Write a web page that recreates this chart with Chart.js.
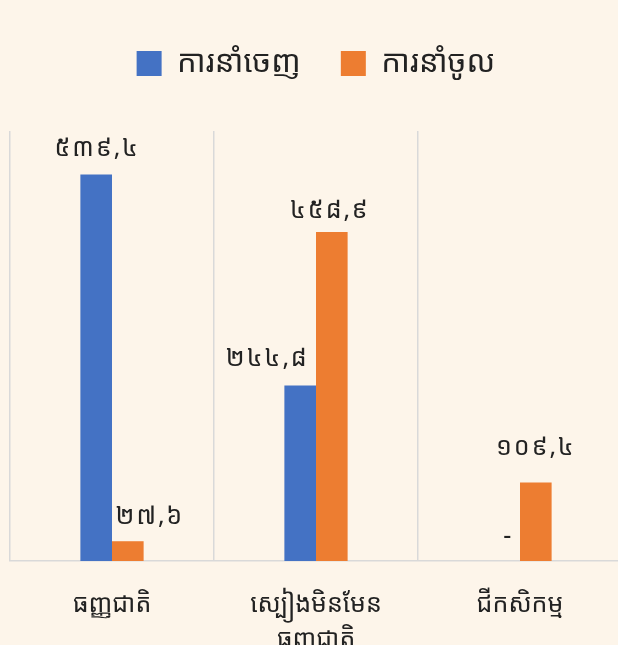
<!DOCTYPE html>
<html>
<head>
<meta charset="utf-8">
<script src="https://cdn.jsdelivr.net/npm/chart.js@4"></script>
<style>
  html, body { margin: 0; padding: 0; background: #fdf5ea; overflow: hidden; }
  #wrap { width: 630px; height: 645px; }
</style>
</head>
<body>
<div id="wrap"><canvas id="chart"></canvas></div>
<script>
// data
var categories = ['ធញ្ញជាតិ', ['ស្បៀងមិនមែន', 'ធញ្ញជាតិ'], 'ជីកសិកម្ម'];
var exportValues = [539.4, 244.8, 0];
var importValues = [27.6, 458.9, 109.4];
var seriesNames = ['ការនាំចេញ', 'ការនាំចូល'];

var KH_FONT = "'Noto Sans Khmer', 'Khmer OS System', 'Khmer OS', 'Noto Serif Khmer', sans-serif";

// label nudges (dx, dy from top centre of bar), like moved labels in the original
var labelNudge = [
  [[1, -26], [-33, -27], [4, -24]],
  [[22, -24], [-2, -21], [0, -35]]
];

function khmerNum(v) {
  if (v === 0) return '-';
  var digits = '០១២៣៤៥៦៧៨៩';
  return v.toFixed(1).replace('.', ',').replace(/[0-9]/g, function (d) { return digits[+d]; });
}

var barLabels = {
  id: 'barLabels',
  afterDatasetsDraw: function (chart) {
    var ctx = chart.ctx;
    ctx.save();
    ctx.font = '25px ' + KH_FONT;
    ctx.letterSpacing = '2px';
    ctx.fillStyle = '#222';
    ctx.textAlign = 'center';
    ctx.textBaseline = 'middle';
    chart.data.datasets.forEach(function (ds, i) {
      chart.getDatasetMeta(i).data.forEach(function (bar, j) {
        var n = labelNudge[i][j];
        ctx.fillText(khmerNum(ds.data[j]), bar.x + n[0], bar.y + n[1]);
      });
    });
    ctx.restore();
  }
};

// extra room under the legend
var legendGap = {
  id: 'legendGap',
  beforeInit: function (chart) {
    var fit = chart.legend.fit;
    chart.legend.fit = function () {
      fit.call(this);
      this.height += 42;
    };
  }
};

new Chart(document.getElementById('chart'), {
  type: 'bar',
  data: {
    labels: categories,
    datasets: [
      { label: seriesNames[0], data: exportValues, backgroundColor: '#4472c4' },
      { label: seriesNames[1], data: importValues, backgroundColor: '#ed7d31' }
    ]
  },
  options: {
    responsive: true,
    maintainAspectRatio: false,
    animation: false,
    layout: { padding: { left: 10, right: 8, top: 8 } },
    datasets: { bar: { barPercentage: 1, categoryPercentage: 0.31 } },
    plugins: {
      tooltip: { enabled: false },
      legend: {
        position: 'top',
        labels: {
          boxWidth: 25, boxHeight: 25, padding: 40,
          color: '#222',
          font: { size: 31, family: KH_FONT }
        }
      }
    },
    scales: {
      x: {
        grid: { offset: true, color: '#d9d9d9', lineWidth: 1.5, drawTicks: false },
        border: { color: '#d9d9d9', width: 1.5 },
        ticks: { color: '#222', font: { size: 25, family: KH_FONT, lineHeight: 1.4 }, padding: 26, maxRotation: 0 },
        afterFit: function (s) { s.height = 84; }
      },
      y: { display: false, min: 0, max: 600 }
    }
  },
  plugins: [barLabels, legendGap]
});
</script>
</body>
</html>
